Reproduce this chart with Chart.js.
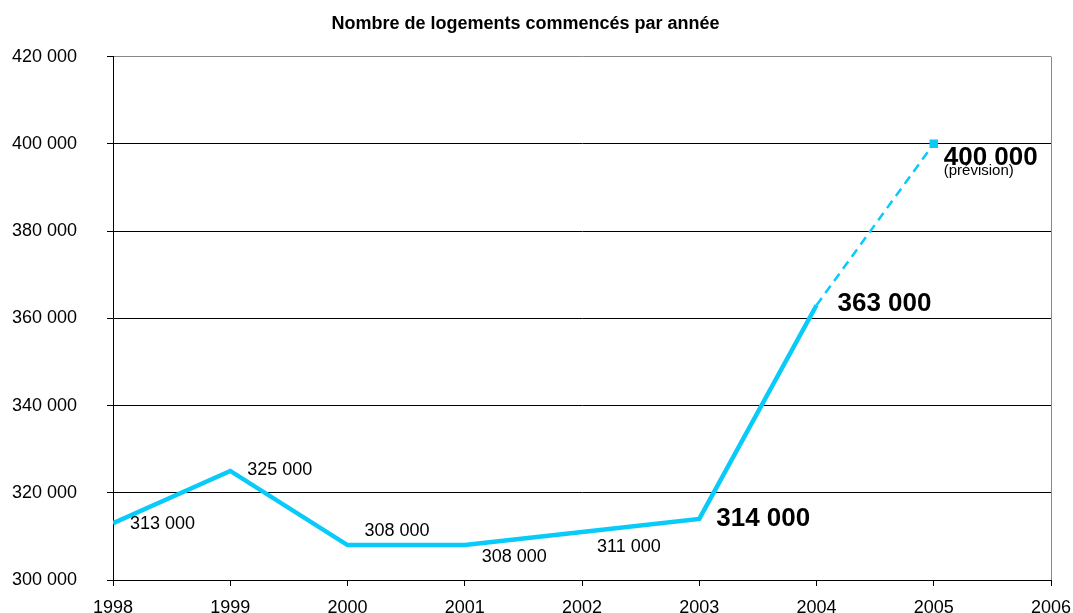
<!DOCTYPE html>
<html>
<head>
<meta charset="utf-8">
<script src="https://cdn.jsdelivr.net/npm/chart.js@4.4.0/dist/chart.umd.min.js"></script>
<style>
html,body{margin:0;padding:0;background:#fff;overflow:hidden;}
canvas{display:block;}
</style>
</head>
<body>
<canvas id="c" width="1073" height="613" style="width:1073px;height:613px;"></canvas>
<script>
const title = "Nombre de logements commencés par année";
const years = [1998, 1999, 2000, 2001, 2002, 2003, 2004];
const values = [313000, 325000, 308000, 308000, 311000, 314000, 363000];
const forecastYears = [2004, 2005];
const forecastValues = [363000, 400000];
const forecastNote = "(prévision)";
const yTicks = [300000, 320000, 340000, 360000, 380000, 400000, 420000];
const xTicks = [1998, 1999, 2000, 2001, 2002, 2003, 2004, 2005, 2006];

const fmt = v => String(Math.round(v)).replace(/\B(?=(\d{3})+(?!\d))/g, ' ');

// label styling (offsets in px, font)
const labelStyle = [
  {dx:17, dy:1, bold:false},
  {dx:17, dy:-1, bold:false},
  {dx:17, dy:-14, bold:false},
  {dx:17, dy:12, bold:false},
  {dx:15, dy:15, bold:false},
  {dx:17, dy:0, bold:true},
  {dx:21, dy:-1, bold:true}
];
const forecastLabelStyle = {dx:10, dy:14, noteDy:27};

const FONT = "'Liberation Sans', Arial, sans-serif";
const lineColor = '#08CBFA';

const labelPlugin = {
  id: 'valueLabels',
  afterDatasetsDraw(chart) {
    const ctx = chart.ctx;
    const xs = chart.scales.x, ys = chart.scales.y;
    ctx.save();
    ctx.fillStyle = '#000';
    ctx.textAlign = 'left';
    ctx.textBaseline = 'middle';
    years.forEach((yr, i) => {
      const st = labelStyle[i];
      const px = xs.getPixelForValue(yr), py = ys.getPixelForValue(values[i]);
      ctx.font = (st.bold ? 'bold 26px ' : '18px ') + FONT;
      ctx.fillText(fmt(values[i]), px + st.dx, py + st.dy);
    });
    const last = forecastYears.length - 1;
    const fx = xs.getPixelForValue(forecastYears[last]);
    const fy = ys.getPixelForValue(forecastValues[last]);
    ctx.font = '15px ' + FONT;
    ctx.fillText(forecastNote, fx + forecastLabelStyle.dx, fy + forecastLabelStyle.noteDy);
    ctx.font = 'bold 26px ' + FONT;
    ctx.fillText(fmt(forecastValues[last]), fx + forecastLabelStyle.dx, fy + forecastLabelStyle.dy);
    ctx.restore();
  }
};

new Chart(document.getElementById('c'), {
  type: 'line',
  data: {
    datasets: [
      {
        data: years.map((x, i) => ({x, y: values[i]})),
        borderColor: lineColor,
        borderWidth: 4.5,
        pointRadius: 0,
        tension: 0,
        fill: false
      },
      {
        data: forecastYears.map((x, i) => ({x, y: forecastValues[i]})),
        borderColor: lineColor,
        backgroundColor: lineColor,
        borderWidth: 2.5,
        borderDash: [9, 6],
        pointStyle: 'rect',
        pointRadius: ctx => ctx.dataIndex === forecastYears.length - 1 ? 6 : 0,
        pointBorderWidth: 0,
        tension: 0,
        fill: false
      }
    ]
  },
  options: {
    responsive: false,
    maintainAspectRatio: false,
    animation: false,
    devicePixelRatio: 1,
    layout: { padding: { top: 0, right: 22, bottom: 0, left: 0 } },
    plugins: {
      legend: { display: false },
      tooltip: { enabled: false },
      title: {
        display: true,
        text: title,
        color: '#000',
        font: { family: FONT, size: 18, weight: 'bold' },
        padding: { top: 13, bottom: 22 }
      }
    },
    scales: {
      x: {
        type: 'linear',
        min: xTicks[0],
        max: xTicks[xTicks.length - 1],
        afterBuildTicks: s => { s.ticks = xTicks.map(v => ({value: v})); },
        afterFit: s => { s.height = 33; s.paddingLeft = 0; s.paddingRight = 0; },
        ticks: {
          color: '#000',
          font: { family: FONT, size: 18 },
          padding: 11,
          maxRotation: 0,
          autoSkip: false,
          callback: v => String(v)
        },
        grid: {
          drawOnChartArea: true,
          color: c => (c.index === xTicks.length - 1 ? '#888' : 'rgba(0,0,0,0)'),
          tickColor: '#000',
          tickLength: 6,
          lineWidth: 1
        },
        border: { color: '#000', width: 1 }
      },
      y: {
        min: yTicks[0],
        max: yTicks[yTicks.length - 1],
        afterBuildTicks: s => { s.ticks = yTicks.map(v => ({value: v})); },
        afterFit: s => { s.width = 113; s.paddingTop = 0; s.paddingBottom = 0; },
        ticks: {
          color: '#000',
          font: { family: FONT, size: 18 },
          padding: 30,
          callback: v => fmt(v)
        },
        grid: {
          color: c => (c.tick && c.tick.value === yTicks[yTicks.length - 1] ? '#888' : '#000'),
          tickColor: '#000',
          tickLength: 6,
          lineWidth: 1
        },
        border: { color: '#000', width: 1 }
      }
    }
  },
  plugins: [labelPlugin]
});
</script>
</body>
</html>
